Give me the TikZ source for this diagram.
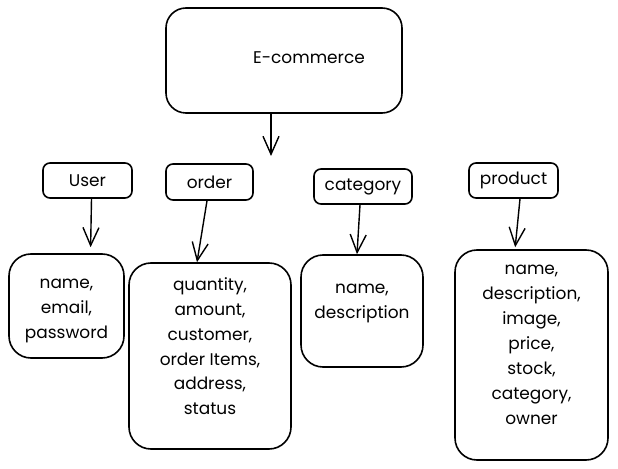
\documentclass[tikz,border=0pt]{standalone}
\usepackage{fontspec}
\setmainfont{Poppins}
\usetikzlibrary{arrows.meta}

\begin{document}
\begin{tikzpicture}[
		x=1bp, y=-1bp,
		every node/.style={font=\fontsize{17}{25}\selectfont},
		mainbox/.style={draw, line width=1.6bp, rounded corners=20bp, inner sep=0pt},
		titlebox/.style={draw, line width=1.6bp, rounded corners=7bp, inner sep=0pt},
		attrbox/.style={draw, line width=1.6bp, rounded corners=22bp, inner sep=0pt},
		attrtext/.style={anchor=north, align=center, inner sep=0pt},
		link/.style={-{Straight Barb[length=18bp, width=16bp]}, line width=1.4bp},
	]
	\useasboundingbox (0,0) rectangle (618,469);

	\node[mainbox, minimum width=236bp, minimum height=105bp,
		label={[xshift=25bp, yshift=3bp]center:E-commerce}] (ecom) at (284, 60.5) {};
	\coordinate (ecomtip) at (271, 156);

	\node[titlebox, minimum width=89bp, minimum height=35bp] (user)     at (87.5, 180.5) {User};
	\node[titlebox, minimum width=87bp, minimum height=36bp] (order)    at (209.5, 182)  {order};
	\node[titlebox, minimum width=98bp, minimum height=35bp] (category) at (363, 186.5)  {category};
	\node[titlebox, minimum width=89bp, minimum height=35bp] (product)  at (513.5, 180.5) {product};

	\node[attrbox, minimum width=115bp, minimum height=104bp,
		label={[attrtext, yshift=-26bp]north:{name,\\email,\\password}}] (userattr) at (66.5, 306) {};
	\node[attrbox, minimum width=162bp, minimum height=186bp,
		label={[attrtext, yshift=-15bp]north:{quantity,\\amount,\\customer,\\order Items,\\address,\\status}}] (orderattr) at (210, 356) {};
	\node[attrbox, minimum width=122bp, minimum height=112bp,
		label={[attrtext, yshift=-30bp]north:{name,\\description}}] (catattr) at (362, 311) {};
	\node[attrbox, minimum width=153bp, minimum height=210bp,
		label={[attrtext, yshift=-16bp]north:{name,\\description,\\image,\\price,\\stock,\\category,\\owner}}] (prodattr) at (531.5, 355) {};

	\draw[link] (ecom.south -| ecomtip) -- (ecomtip);
	\draw[link, shorten >=6bp] ([xshift=4bp]user.south) -- ([xshift=24bp]userattr.north);
	\draw[link] ([xshift=-2.5bp]order.south) -- ([xshift=-13bp]orderattr.north);
	\draw[link] ([xshift=-3bp]category.south) -- ([xshift=-5bp]catattr.north);
	\draw[link, shorten >=2bp] ([xshift=6.5bp]product.south) -- ([xshift=-16.5bp]prodattr.north);
\end{tikzpicture}
\end{document}
